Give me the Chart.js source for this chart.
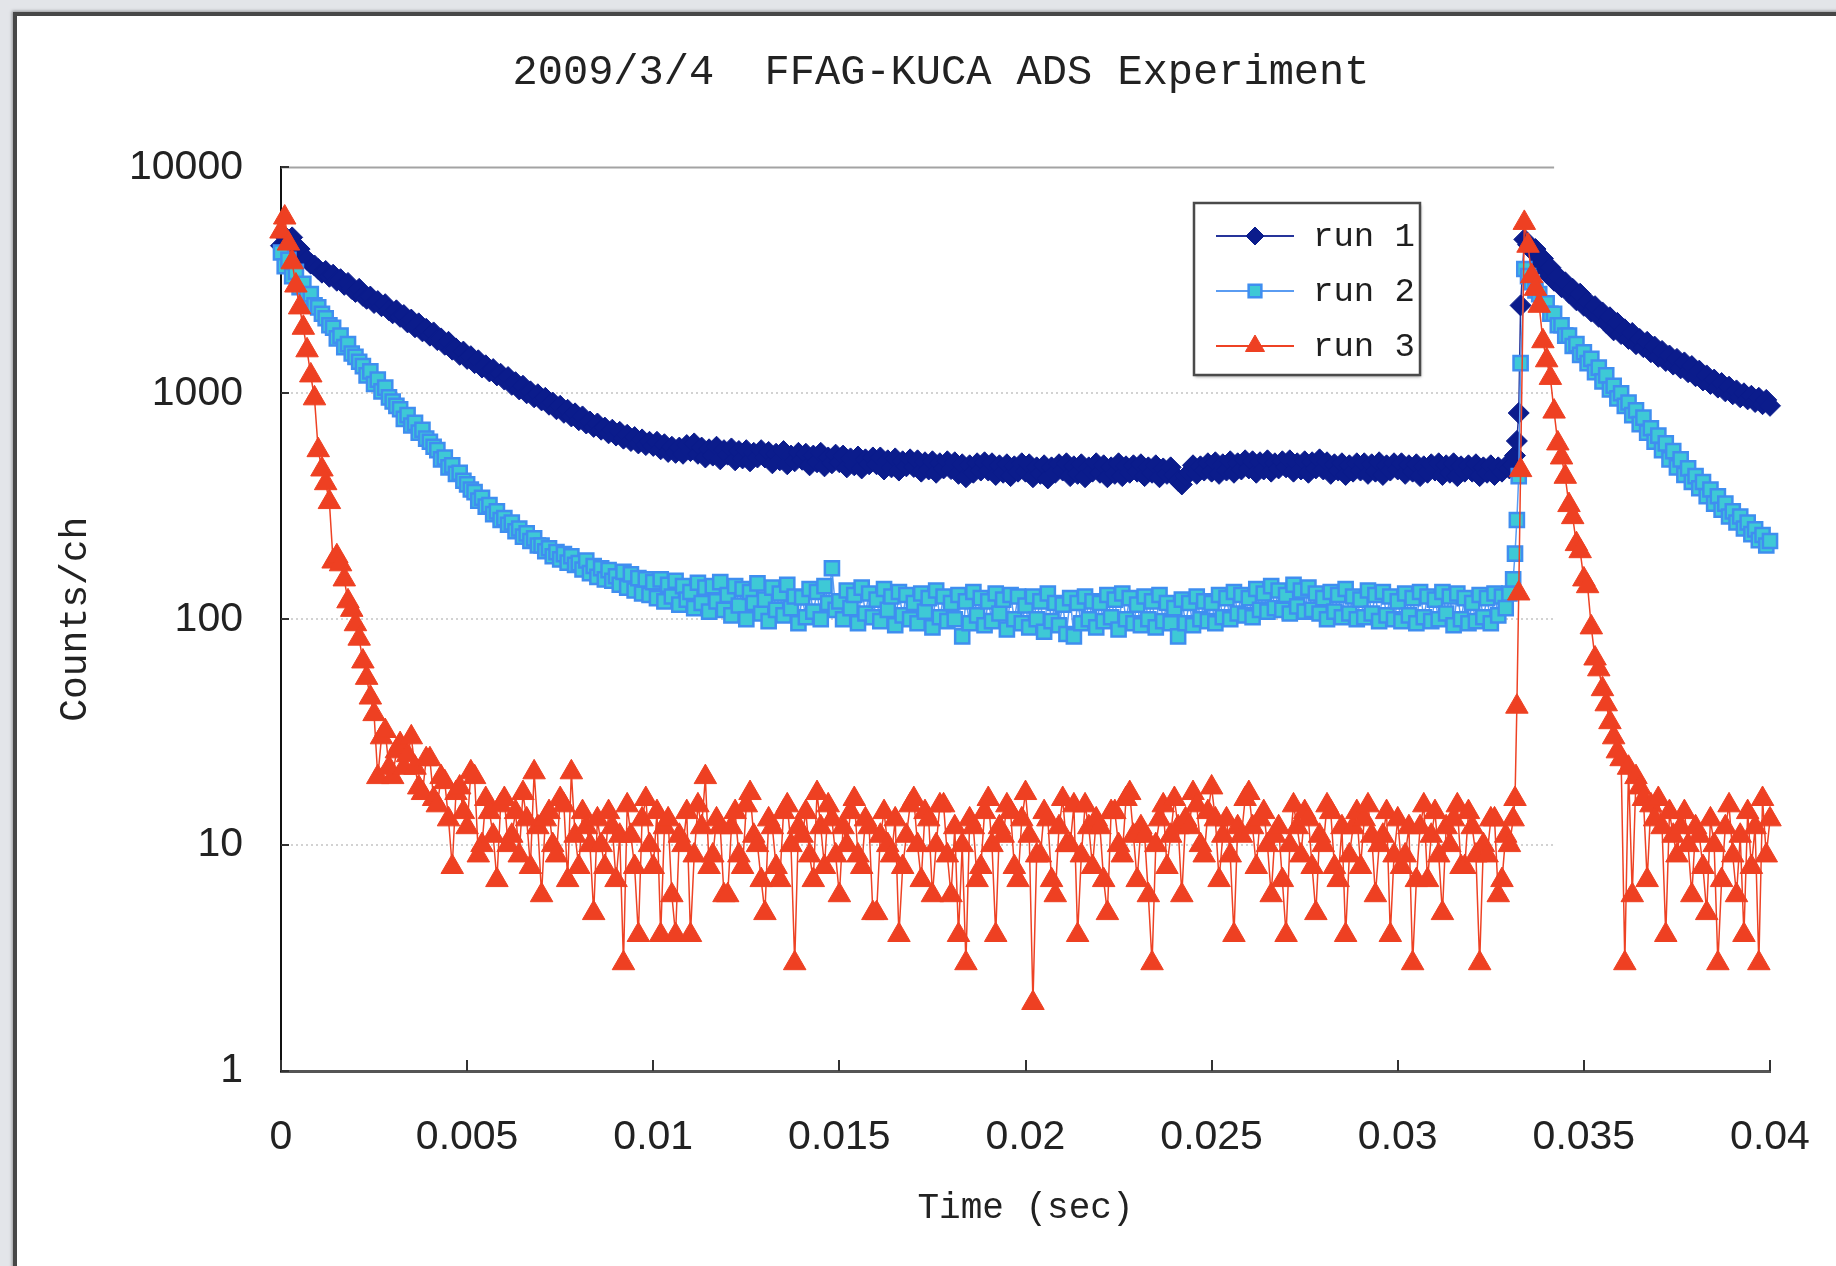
<!DOCTYPE html>
<html lang="en">
<head>
<meta charset="UTF-8">
<title>2009/3/4 FFAG-KUCA ADS Experiment</title>
<script src="https://cdn.jsdelivr.net/npm/chart.js"></script>
<style>
  html, body { margin: 0; padding: 0; }
  body {
    width: 1836px;
    height: 1266px;
    overflow: hidden;
    position: relative;
    background: #e3e5e9;
  }
  .frame {
    position: absolute;
    left: 13px;
    top: 12px;
    width: 1840px;
    height: 1270px;
    background: #fff;
    border-top: 4px solid #474747;
    border-left: 4px solid #474747;
    box-shadow: -1px -1px 3px rgba(0, 0, 0, 0.35);
  }
  #chart { position: absolute; left: 0; top: 0; }
</style>
</head>
<body>
<div class="frame"></div>
<canvas id="chart" width="1836" height="1266"></canvas>
<script>
// channel times (sec)
const times = [
  0,0.0001,0.0002,0.0003,0.0004,0.0005,0.0006,0.0007,0.0008,0.0009,
  0.001,0.0011,0.0012,0.0013,0.0014,0.0015,0.0016,0.0017,0.0018,0.0019,
  0.002,0.0021,0.0022,0.0023,0.0024,0.0025,0.0026,0.0027,0.0028,0.0029,
  0.003,0.0031,0.0032,0.0033,0.0034,0.0035,0.0036,0.0037,0.0038,0.0039,
  0.004,0.0041,0.0042,0.0043,0.0044,0.0045,0.0046,0.0047,0.0048,0.0049,
  0.005,0.0051,0.0052,0.0053,0.0054,0.0055,0.0056,0.0057,0.0058,0.0059,
  0.006,0.0061,0.0062,0.0063,0.0064,0.0065,0.0066,0.0067,0.0068,0.0069,
  0.007,0.0071,0.0072,0.0073,0.0074,0.0075,0.0076,0.0077,0.0078,0.0079,
  0.008,0.0081,0.0082,0.0083,0.0084,0.0085,0.0086,0.0087,0.0088,0.0089,
  0.009,0.0091,0.0092,0.0093,0.0094,0.0095,0.0096,0.0097,0.0098,0.0099,
  0.01,0.0101,0.0102,0.0103,0.0104,0.0105,0.0106,0.0107,0.0108,0.0109,
  0.011,0.0111,0.0112,0.0113,0.0114,0.0115,0.0116,0.0117,0.0118,0.0119,
  0.012,0.0121,0.0122,0.0123,0.0124,0.0125,0.0126,0.0127,0.0128,0.0129,
  0.013,0.0131,0.0132,0.0133,0.0134,0.0135,0.0136,0.0137,0.0138,0.0139,
  0.014,0.0141,0.0142,0.0143,0.0144,0.0145,0.0146,0.0147,0.0148,0.0149,
  0.015,0.0151,0.0152,0.0153,0.0154,0.0155,0.0156,0.0157,0.0158,0.0159,
  0.016,0.0161,0.0162,0.0163,0.0164,0.0165,0.0166,0.0167,0.0168,0.0169,
  0.017,0.0171,0.0172,0.0173,0.0174,0.0175,0.0176,0.0177,0.0178,0.0179,
  0.018,0.0181,0.0182,0.0183,0.0184,0.0185,0.0186,0.0187,0.0188,0.0189,
  0.019,0.0191,0.0192,0.0193,0.0194,0.0195,0.0196,0.0197,0.0198,0.0199,
  0.02,0.0201,0.0202,0.0203,0.0204,0.0205,0.0206,0.0207,0.0208,0.0209,
  0.021,0.0211,0.0212,0.0213,0.0214,0.0215,0.0216,0.0217,0.0218,0.0219,
  0.022,0.0221,0.0222,0.0223,0.0224,0.0225,0.0226,0.0227,0.0228,0.0229,
  0.023,0.0231,0.0232,0.0233,0.0234,0.0235,0.0236,0.0237,0.0238,0.0239,
  0.024,0.0241,0.0242,0.0243,0.0244,0.0245,0.0246,0.0247,0.0248,0.0249,
  0.025,0.0251,0.0252,0.0253,0.0254,0.0255,0.0256,0.0257,0.0258,0.0259,
  0.026,0.0261,0.0262,0.0263,0.0264,0.0265,0.0266,0.0267,0.0268,0.0269,
  0.027,0.0271,0.0272,0.0273,0.0274,0.0275,0.0276,0.0277,0.0278,0.0279,
  0.028,0.0281,0.0282,0.0283,0.0284,0.0285,0.0286,0.0287,0.0288,0.0289,
  0.029,0.0291,0.0292,0.0293,0.0294,0.0295,0.0296,0.0297,0.0298,0.0299,
  0.03,0.0301,0.0302,0.0303,0.0304,0.0305,0.0306,0.0307,0.0308,0.0309,
  0.031,0.0311,0.0312,0.0313,0.0314,0.0315,0.0316,0.0317,0.0318,0.0319,
  0.032,0.0321,0.0322,0.0323,0.0324,0.0325,0.0326,0.0327,0.0328,0.0329,
  0.033,
  0.0331,0.03315,0.0332,0.03325,0.0333,0.0334,
  0.0335,0.0336,0.0337,0.0338,0.0339,0.034,0.0341,0.0342,0.0343,0.0344,
  0.0345,0.0346,0.0347,0.0348,0.0349,0.035,0.0351,0.0352,0.0353,0.0354,
  0.0355,0.0356,0.0357,0.0358,0.0359,0.036,0.0361,0.0362,0.0363,0.0364,
  0.0365,0.0366,0.0367,0.0368,0.0369,0.037,0.0371,0.0372,0.0373,0.0374,
  0.0375,0.0376,0.0377,0.0378,0.0379,0.038,0.0381,0.0382,0.0383,0.0384,
  0.0385,0.0386,0.0387,0.0388,0.0389,0.039,0.0391,0.0392,0.0393,0.0394,
  0.0395,0.0396,0.0397,0.0398,0.0399,0.04
];

// counts per channel
const run1 = [
  4500,4950,4700,4900,4300,4350,4000,3900,3750,3680,
  3550,3420,3480,3280,3350,3150,3200,3020,3080,2900,
  2810,2900,2700,2620,2680,2510,2560,2430,2480,2330,
  2260,2330,2180,2220,2060,2120,1960,2040,1880,1930,
  1800,1860,1720,1750,1640,1690,1560,1580,1480,1530,
  1420,1460,1360,1400,1300,1330,1250,1280,1200,1220,
  1150,1180,1090,1120,1040,1080,1000,1020,960,990,
  930,955,890,910,850,880,820,845,790,815,
  760,790,735,750,710,735,690,705,665,690,
  650,675,630,655,615,640,600,625,590,610,
  585,610,565,595,550,580,545,575,540,590,
  555,600,540,575,520,565,530,580,510,560,
  535,570,505,555,515,560,500,545,520,560,
  520,550,490,540,505,555,485,530,500,545,
  508,540,480,530,495,545,475,520,490,535,
  495,530,470,515,480,525,465,510,485,520,
  485,520,460,505,470,515,455,500,475,510,
  472,505,450,495,460,500,445,490,465,500,
  462,495,440,485,425,480,445,490,455,495,
  455,490,435,480,445,485,430,475,450,490,
  450,485,425,470,440,480,420,470,445,485,
  455,490,430,475,440,485,425,470,450,490,
  445,480,425,470,440,490,430,475,445,480,
  450,485,430,470,445,480,425,465,440,470,
  435,410,395,430,445,480,440,475,455,490,
  450,495,440,485,455,500,445,490,460,505,
  465,500,445,495,460,505,450,490,465,500,
  470,505,450,490,460,500,445,495,465,510,
  460,495,440,485,455,490,435,480,450,490,
  455,490,440,485,450,495,435,480,455,490,
  460,490,440,480,450,485,430,475,445,485,
  455,490,435,480,445,490,430,475,450,480,
  450,485,430,470,445,480,435,470,450,475,
  465,
  480,530,615,818,2450,4800,
  4550,4300,4350,3800,3950,3400,3600,3150,3300,2950,
  3100,2780,2900,2580,2760,2440,2550,2300,2430,2180,
  2280,2050,2170,1900,2050,1830,1920,1740,1850,1650,
  1740,1600,1690,1520,1610,1450,1540,1390,1470,1340,
  1420,1290,1370,1240,1320,1190,1260,1140,1200,1100,
  1150,1060,1110,1020,1070,990,1030,960,1000,940,
  975,915,955,895,935,880
];

const run2 = [
  4200,3650,3900,3300,3450,2950,3050,2650,2750,2450,
  2400,2250,2150,2000,1950,1750,1800,1600,1650,1500,
  1450,1380,1320,1200,1250,1100,1150,1020,1060,960,
  920,880,850,770,800,720,740,670,690,630,
  610,580,560,510,520,470,480,440,445,410,
  395,375,365,335,345,315,320,292,300,275,
  280,262,268,245,252,232,240,222,228,212,
  212,200,206,190,198,184,194,178,190,174,
  177,166,182,160,172,154,168,150,165,148,
  155,142,162,138,158,134,152,130,150,128,
  146,124,150,120,142,126,148,116,140,122,
  132,112,145,118,138,108,140,120,146,110,
  128,104,140,115,136,100,132,118,144,106,
  122,98,138,110,130,104,142,112,126,96,
  125,102,136,108,132,100,140,118,168,110,
  120,100,134,112,128,96,138,106,130,102,
  122,98,136,110,126,94,132,104,128,100,
  118,96,130,108,124,92,134,102,126,98,
  118,100,128,84,120,96,132,104,124,94,
  120,98,130,106,122,90,128,100,126,96,
  115,92,126,100,120,88,130,98,118,94,
  116,86,124,84,118,96,126,100,120,92,
  118,98,128,102,122,90,130,100,124,96,
  116,94,126,100,120,92,128,98,118,96,
  112,84,122,96,118,94,126,100,120,98,
  118,96,128,102,124,100,132,106,128,104,
  124,102,136,110,130,108,140,112,134,110,
  128,106,142,114,134,108,138,110,130,106,
  124,100,132,108,128,102,136,106,126,100,
  122,102,134,106,128,98,132,104,126,100,
  120,98,130,104,124,96,132,102,126,98,
  122,100,132,106,126,94,130,100,124,96,
  118,98,128,102,124,96,130,104,126,112,
  130,
  150,195,275,430,1360,3550,
  3300,3100,2850,2750,2500,2500,2250,2250,2000,2000,
  1800,1800,1620,1650,1480,1520,1360,1420,1240,1300,
  1130,1200,1040,1080,950,1000,880,910,800,840,
  730,780,670,700,610,650,560,600,510,555,
  470,510,435,465,405,430,380,405,350,375,
  325,350,305,325,285,300,268,285,252,268,
  238,250,224,236,212,222
];

const run3 = [
  5200,6000,4600,3800,3000,2400,1950,1550,1200,950,
  560,460,400,330,180,190,175,150,120,110,
  95,82,65,55,45,38,20,30,32,22,
  20,26,28,22,25,30,22,18,17,24,
  24,16,15,20,19,13,8,17,18,14,
  12,21,20,9,10,16,14,11,7,15,
  16,10,11,14,9,17,13,8,21,12,
  6,13,14,10,9,16,15,7,21,11,
  8,14,12,10,5,13,10,8,14,12,
  7,11,3,15,11,8,4,13,16,10,
  8,14,4,12,13,6,4,11,10,14,
  4,9,15,12,20,8,9,13,12,6,
  6,12,14,9,8,15,17,11,10,7,
  5,13,12,8,7,14,15,10,3,12,
  11,14,9,7,17,12,8,15,13,9,
  6,12,10,14,16,9,8,13,12,5,
  5,11,14,10,9,13,4,8,11,15,
  16,10,7,14,13,6,10,15,15,9,
  6,12,4,10,3,13,12,7,8,14,
  16,10,4,12,11,15,14,8,7,13,
  17,11,2,9,9,14,13,7,6,12,
  16,10,10,15,4,9,15,12,8,13,
  12,7,5,14,14,10,9,16,17,11,
  7,12,11,6,3,10,13,15,8,11,
  16,12,6,13,12,17,15,10,9,14,
  18,13,7,11,13,9,4,12,11,16,
  17,12,8,13,14,10,6,11,12,7,
  4,10,15,12,9,14,13,8,5,11,
  10,15,14,8,7,12,4,9,12,14,
  8,13,15,11,6,10,11,14,4,9,
  13,8,9,12,3,7,12,15,7,11,
  14,9,5,12,10,13,15,8,8,14,
  12,9,3,10,9,13,13,6,7,11,
  10,
  13,16,41,130,457,5680,
  4500,3300,2900,2440,1700,1400,1170,830,600,520,
  427,320,283,215,200,150,140,92,67,60,
  49,42,35,30,26,24,3,22,6,20,
  18,16,7,15,13,16,12,4,14,11,
  9,12,14,10,6,12,11,8,5,13,
  10,3,7,12,15,9,6,11,4,14,
  8,12,3,16,9,13
];

const seriesNames = ['run 1', 'run 2', 'run 3'];
const xTicks = [0, 0.005, 0.01, 0.015, 0.02, 0.025, 0.03, 0.035, 0.04];
const xTickLabels = ['0', '0.005', '0.01', '0.015', '0.02', '0.025', '0.03', '0.035', '0.04'];
const yTicks = [1, 10, 100, 1000, 10000];
const yTickLabels = ['1', '10', '100', '1000', '10000'];

function toPoints(values) {
  return values.map((v, i) => ({ x: times[i], y: v }));
}

// dotted grid, inside tick marks and the boxed legend
const chartDecor = {
  id: 'chartDecor',
  beforeDatasetsDraw(chart) {
    const { ctx, chartArea: a, scales: { x, y } } = chart;
    const gridEnd = x.getPixelForValue(0.0342);
    ctx.save();
    ctx.lineWidth = 2;
    ctx.strokeStyle = '#a3a3a3';
    ctx.beginPath();
    ctx.moveTo(a.left, a.top);
    ctx.lineTo(gridEnd, a.top);
    ctx.stroke();

    ctx.strokeStyle = '#d2d2d2';
    ctx.setLineDash([2, 3]);
    [10, 100, 1000].forEach(v => {
      const py = Math.round(y.getPixelForValue(v));
      ctx.beginPath();
      ctx.moveTo(a.left, py);
      ctx.lineTo(gridEnd, py);
      ctx.stroke();
    });
    ctx.setLineDash([]);

    ctx.strokeStyle = '#333';
    xTicks.forEach(v => {
      const px = Math.round(x.getPixelForValue(v));
      ctx.beginPath();
      ctx.moveTo(px, a.bottom);
      ctx.lineTo(px, a.bottom - 11);
      ctx.stroke();
    });
    yTicks.forEach(v => {
      const py = Math.round(y.getPixelForValue(v));
      ctx.beginPath();
      ctx.moveTo(a.left, py);
      ctx.lineTo(a.left + 8, py);
      ctx.stroke();
    });
    ctx.restore();
  },
  afterDatasetsDraw(chart) {
    const ctx = chart.ctx;
    const box = { left: 1194, top: 203, width: 226, height: 172 };
    ctx.save();
    ctx.shadowColor = 'rgba(0,0,0,0.35)';
    ctx.shadowBlur = 3;
    ctx.shadowOffsetX = 1;
    ctx.shadowOffsetY = 2;
    ctx.fillStyle = '#fff';
    ctx.fillRect(box.left, box.top, box.width, box.height);
    ctx.shadowColor = 'transparent';
    ctx.strokeStyle = '#4a4a4a';
    ctx.lineWidth = 2.5;
    ctx.strokeRect(box.left, box.top, box.width, box.height);

    chart.data.datasets.forEach((ds, i) => {
      const cy = box.top + 33 + i * 55;
      ctx.strokeStyle = ds.borderColor;
      ctx.lineWidth = 2;
      ctx.beginPath();
      ctx.moveTo(box.left + 22, cy);
      ctx.lineTo(box.left + 100, cy);
      ctx.stroke();
      ctx.fillStyle = ds.pointBackgroundColor;
      ctx.strokeStyle = ds.pointBorderColor;
      ctx.lineWidth = ds.pointBorderWidth;
      Chart.helpers.drawPoint(ctx, {
        pointStyle: ds.pointStyle,
        radius: ds.legendRadius,
        borderWidth: ds.pointBorderWidth,
        rotation: 0
      }, box.left + 61, cy);
      ctx.fillStyle = '#1e1e1e';
      ctx.font = '34px "Liberation Mono", monospace';
      ctx.textBaseline = 'middle';
      ctx.textAlign = 'left';
      ctx.fillText(ds.label, box.left + 119, cy + 1);
    });
    ctx.restore();
  }
};

const tickFont = { family: '"Liberation Sans", Arial, sans-serif', size: 41 };

new Chart(document.getElementById('chart'), {
  type: 'line',
  data: {
    datasets: [
      {
        label: seriesNames[0],
        data: toPoints(run1),
        borderColor: '#26349a',
        borderWidth: 1.5,
        pointStyle: 'rectRot',
        pointRadius: 10.5,
        legendRadius: 9,
        pointBackgroundColor: '#0b1c8c',
        pointBorderColor: '#0b1c8c',
        pointBorderWidth: 1,
        order: 3,
        clip: false
      },
      {
        label: seriesNames[1],
        data: toPoints(run2),
        borderColor: '#5a9cf2',
        borderWidth: 1.5,
        pointStyle: 'rect',
        pointRadius: 10,
        legendRadius: 9,
        pointBackgroundColor: '#3ec9d6',
        pointBorderColor: '#3f8ef0',
        pointBorderWidth: 2.5,
        order: 2,
        clip: false
      },
      {
        label: seriesNames[2],
        data: toPoints(run3),
        borderColor: '#ee4224',
        borderWidth: 1.5,
        pointStyle: 'triangle',
        pointRadius: 13,
        legendRadius: 11,
        pointBackgroundColor: '#ee4022',
        pointBorderColor: '#ee4022',
        pointBorderWidth: 1,
        order: 1,
        clip: false
      }
    ]
  },
  options: {
    responsive: false,
    animation: false,
    events: [],
    layout: { padding: { left: 46, right: 0, top: 0, bottom: 0 } },
    plugins: {
      legend: { display: false },
      tooltip: { enabled: false },
      title: {
        display: true,
        text: '2009/3/4  FFAG-KUCA ADS Experiment',
        color: '#222',
        font: { family: '"Liberation Mono", monospace', size: 42, weight: 'normal' },
        padding: { top: 48, bottom: 69 }
      }
    },
    scales: {
      x: {
        type: 'linear',
        min: 0,
        max: 0.04,
        afterBuildTicks: axis => { axis.ticks = xTicks.map(v => ({ value: v })); },
        afterFit: scale => {
          scale.height = 195;
          scale.paddingLeft = 0;
          scale.paddingRight = 0;
        },
        grid: { display: false, drawTicks: false },
        border: { display: true, color: '#555', width: 3 },
        ticks: {
          padding: 42,
          color: '#222',
          font: tickFont,
          maxRotation: 0,
          autoSkip: false,
          callback: (v, i) => xTickLabels[i]
        },
        title: {
          display: true,
          text: 'Time (sec)',
          color: '#222',
          font: { family: '"Liberation Mono", monospace', size: 36 },
          padding: { top: 0, bottom: 36 }
        }
      },
      y: {
        type: 'logarithmic',
        position: 'left',
        min: 1,
        max: 10000,
        afterBuildTicks: axis => { axis.ticks = yTicks.map(v => ({ value: v })); },
        afterFit: scale => { scale.width = 235; },
        grid: { display: false, drawTicks: false },
        border: { display: true, color: '#111', width: 2 },
        ticks: {
          padding: 38,
          color: '#222',
          font: tickFont,
          autoSkip: false,
          callback: (v, i) => yTickLabels[i]
        },
        title: {
          display: true,
          text: 'Counts/ch',
          color: '#222',
          font: { family: '"Liberation Mono", monospace', size: 38 },
          padding: { top: 7, bottom: 0 }
        }
      },
      yRight: {
        type: 'linear',
        position: 'right',
        display: true,
        afterFit: scale => { scale.width = 66; },
        grid: { display: false, drawTicks: false },
        border: { display: false },
        ticks: { display: false }
      }
    }
  },
  plugins: [chartDecor]
});
</script>
</body>
</html>
